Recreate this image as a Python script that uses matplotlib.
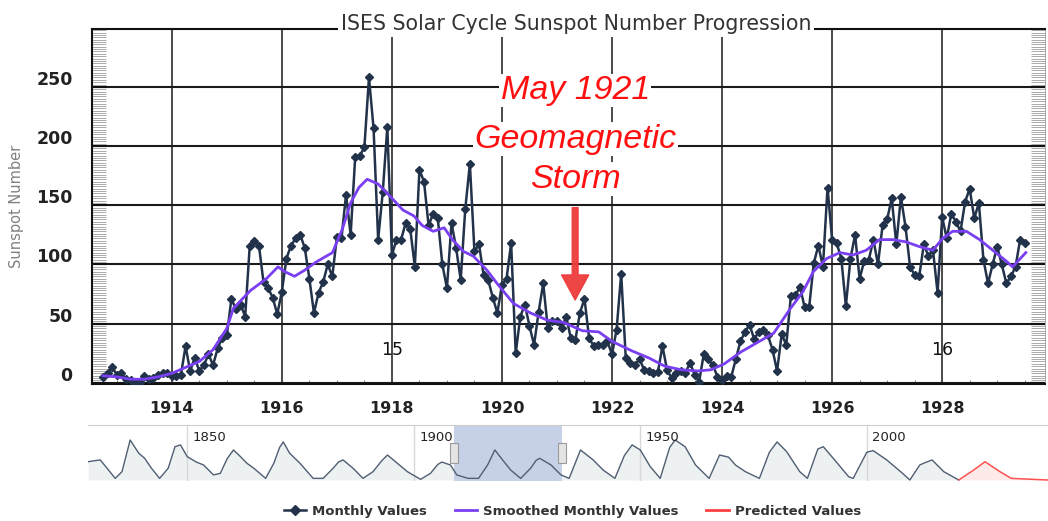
import numpy as np
import matplotlib.pyplot as plt
import matplotlib.transforms as mtransforms
from matplotlib.lines import Line2D
from matplotlib.patches import Rectangle
from matplotlib.ticker import MultipleLocator

# Monthly sunspot numbers, Oct 1912 .. Jul 1929
m1912 = [5, 8, 13]
m1913 = [7, 8, 3, 2, 1, 1, 6, 3, 4, 7, 8, 8]
m1914 = [6, 6, 7, 31, 10, 21, 10, 15, 24, 15, 29, 38]
m1915 = [40, 71, 62, 66, 56, 116, 120, 116, 85, 80, 72, 58]
m1916 = [77, 105, 116, 122, 125, 114, 88, 59, 76, 85, 100, 90]
m1917 = [123, 122, 159, 125, 191, 192, 199, 258, 215, 121, 161, 216]
m1918 = [108, 121, 121, 135, 130, 98, 180, 170, 133, 143, 139, 100]
m1919 = [80, 135, 114, 87, 147, 185, 111, 117, 91, 87, 72, 59]
m1920 = [83, 88, 118, 25, 56, 66, 48, 32, 60, 84, 46, 52]
m1921 = [52, 46, 56, 38, 36, 59, 71, 38, 31, 32, 32, 35]
m1922 = [24, 45, 92, 21, 17, 15, 20, 11, 10, 8, 9, 31]
m1923 = [11, 4, 8, 10, 8, 17, 7, 1, 24, 20, 15, 5]
m1924 = [2, 6, 5, 20, 35, 43, 49, 37, 43, 45, 40, 28]
m1925 = [10, 41, 32, 73, 74, 81, 64, 64, 101, 116, 98, 165]
m1926 = [121, 118, 105, 65, 105, 125, 88, 103, 104, 121, 100, 133]
m1927 = [138, 156, 117, 157, 132, 98, 91, 90, 117, 107, 112, 76]
m1928 = [140, 122, 143, 136, 128, 153, 164, 139, 152, 104, 84, 100]
m1929 = [115, 100, 84, 90, 98, 121, 118]

monthly = np.array(m1912 + m1913 + m1914 + m1915 + m1916 + m1917 + m1918 + m1919
                   + m1920 + m1921 + m1922 + m1923 + m1924 + m1925 + m1926 + m1927
                   + m1928 + m1929)
month_t = 1912.75 + np.arange(len(monthly)) / 12

# Smoothed monthly values
smooth_t = [1912.75, 1913.0, 1913.25, 1913.5, 1913.75, 1914.0, 1914.25, 1914.5, 1914.75,
            1915.0, 1915.12, 1915.43, 1915.72, 1915.93, 1916.05, 1916.23, 1916.41, 1916.62,
            1916.92, 1917.1, 1917.25, 1917.4, 1917.55, 1917.75, 1918.0, 1918.2, 1918.4,
            1918.55, 1918.75, 1918.95, 1919.1, 1919.3, 1919.48, 1919.73, 1919.91, 1920.21,
            1920.52, 1920.82, 1921.12, 1921.46, 1921.76, 1922.0, 1922.36, 1922.67, 1922.96,
            1923.26, 1923.56, 1923.8, 1924.04, 1924.34, 1924.64, 1924.94, 1925.23, 1925.47,
            1925.66, 1925.9, 1926.14, 1926.38, 1926.62, 1926.86, 1927.1, 1927.35, 1927.59,
            1927.83, 1928.01, 1928.19, 1928.44, 1928.68, 1928.92, 1929.16, 1929.28, 1929.4,
            1929.52]
smooth_v = [6, 5, 3, 3, 5, 8, 13, 18, 28,
            46, 63, 78, 88, 98, 94, 90, 95, 102,
            110, 130, 152, 165, 172, 168, 156, 146, 141,
            133, 128, 131, 121, 111, 107, 95, 84, 67,
            59, 53, 51, 44, 43, 35, 27, 21, 14,
            11, 10, 11, 16, 26, 34, 42, 62, 77,
            94, 105, 110, 108, 112, 121, 121, 119, 115,
            112, 122, 128, 128, 121, 112, 103, 98, 104,
            110]

cycle_names = ['15', '16']
cycle_t = [1918.0, 1928.0]
cycle_y = [28, 28]

storm_t = 1921.33
storm_lines = ['May 1921', 'Geomagnetic', 'Storm']
storm_y = [247, 206, 172]
arrow_from, arrow_to = 148, 70

# Navigator: whole record, roughly smoothed
nav_t = [1828.1, 1829.5, 1830.8, 1832.3, 1834.1, 1835.6, 1837.4, 1839.3, 1840.6, 1842.1,
         1843.9, 1845.8, 1847.3, 1848.5, 1850.0, 1852.0, 1853.6, 1855.8, 1857.3, 1858.8,
         1860.2, 1861.5, 1863.2, 1864.7, 1867.3, 1869.1, 1870.4, 1871.2, 1872.6, 1874.9,
         1877.8, 1880.0, 1882.2, 1883.4, 1884.4, 1886.6, 1888.8, 1891.0, 1893.0, 1894.2,
         1896.4, 1898.6, 1901.5, 1903.7, 1905.3, 1906.2, 1908.1, 1909.5, 1912.0, 1914.3,
         1916.3, 1917.9, 1919.6, 1921.4, 1923.6, 1925.8, 1927.0, 1927.8, 1930.3, 1932.5,
         1934.3, 1936.8, 1939.6, 1941.8, 1944.4, 1946.5, 1948.2, 1950.0, 1952.2, 1954.4,
         1956.5, 1957.7, 1959.9, 1962.2, 1965.2, 1967.5, 1969.5, 1971.0, 1973.2, 1976.3,
         1978.5, 1980.2, 1982.3, 1985.2, 1986.9, 1989.2, 1990.4, 1992.9, 1996.0, 1997.0,
         2000.0, 2001.4, 2004.4, 2007.9, 2009.5, 2011.7, 2012.5, 2014.4, 2017.0, 2020.3]
nav_v = [112, 118, 123, 72, 10, 51, 245, 164, 133, 72,
         10, 72, 204, 215, 143, 110, 92, 31, 41, 130,
         184, 150, 102, 72, 10, 102, 200, 233, 164, 102,
         10, 10, 72, 110, 123, 72, 10, 51, 120, 153,
         102, 51, 4, 41, 95, 110, 92, 31, 10, 10,
         92, 184, 123, 61, 10, 72, 120, 133, 92, 31,
         10, 184, 123, 61, 10, 150, 215, 184, 82, 10,
         200, 245, 204, 92, 10, 153, 140, 92, 51, 10,
         170, 233, 174, 51, 10, 190, 204, 123, 20, 10,
         170, 180, 123, 41, 0, 92, 102, 123, 51, 0]
pred_t = [2020.3, 2023.6, 2026.1, 2029.4, 2031.9, 2040.0]
pred_v = [0, 61, 112, 51, 10, 0]
nav_years = [1850, 1900, 1950, 2000]
sel_start, sel_end = 1908.8, 1932.7

navy = '#22324a'
purple = '#7b3ff2'

fig = plt.figure(figsize=(10.48, 5.21), dpi=100)
ax = fig.add_axes([0.0878, 0.2630, 0.9094, 0.6814])

ax.plot(month_t, monthly, color=navy, lw=1.8, marker='D', ms=4.5, zorder=3)
ax.plot(smooth_t, smooth_v, color=purple, lw=2, zorder=4)

ax.set_xlim(1912.55, 1929.87)
ax.set_ylim(-1, 299)
ax.set_xticks(range(1914, 1929, 2))
ax.xaxis.set_minor_locator(MultipleLocator(0.5))
ax.set_yticks(range(0, 251, 50))
ax.yaxis.set_minor_locator(MultipleLocator(2))

ax.grid(axis='y', which='major', color='#1a1a1a', lw=1.5)
ax.grid(axis='x', which='major', color='#1a1a1a', lw=1.1)

ax.tick_params(axis='x', which='major', length=0, pad=12, labelsize=11.5, labelcolor='#222')
ax.tick_params(axis='x', which='minor', direction='in', length=3, width=0.8, color='#888')
ax.tick_params(axis='y', which='major', direction='in', length=11, width=1.5, color='#111',
               left=True, right=True, pad=14, labelsize=12.5, labelcolor='#222')
ax.tick_params(axis='y', which='minor', direction='in', length=10, width=0.7, color='#aaa',
               left=True, right=True)
for sp in ax.spines.values():
    sp.set_color('#111')
    sp.set_linewidth(1.5)
ax.spines['right'].set_linewidth(0.6)
ax.spines['right'].set_color('#999')

offset = mtransforms.ScaledTranslation(0, 0.09, fig.dpi_scale_trans)
for lab in ax.get_yticklabels():
    lab.set_fontweight('bold')
    lab.set_transform(lab.get_transform() + offset)
for lab in ax.get_xticklabels():
    lab.set_fontweight('bold')

ax.set_ylabel('Sunspot Number', color='#808080', fontsize=10.5, labelpad=9)

ax.text(0.508, 1.014, 'ISES Solar Cycle Sunspot Number Progression', transform=ax.transAxes,
        ha='center', va='center', fontsize=14.8, color='#333', zorder=6, clip_on=False,
        bbox=dict(facecolor='white', edgecolor='none', pad=2))

for name, t, y in zip(cycle_names, cycle_t, cycle_y):
    ax.text(t, y, name, ha='center', va='center', fontsize=12.5, color='#111', zorder=5)

for line, y in zip(storm_lines, storm_y):
    ax.text(storm_t, y, line, ha='center', va='center', color='#ff1010', fontsize=24.5,
            fontstyle='italic', family='Liberation Sans', zorder=6,
            bbox=dict(facecolor='white', edgecolor='none', pad=1))
ax.annotate('', xy=(storm_t, arrow_to), xytext=(storm_t, arrow_from),
            arrowprops=dict(arrowstyle='simple,head_length=1.8,head_width=1.95,tail_width=0.42',
                            color='#ee3b3b', alpha=0.95, shrinkA=0, shrinkB=0,
                            mutation_scale=10), zorder=6)

# navigator
ax2 = fig.add_axes([0.0840, 0.0768, 0.9160, 0.1075])
ax2.set_xlim(1828.1, 2040)
ax2.set_ylim(-6, 337)
ax2.fill_between(nav_t, nav_v, 0, color='#eef1f1', lw=0, zorder=1)
ax2.fill_between(pred_t, pred_v, 0, color='#ffeaea', lw=0, zorder=1)
ax2.axvspan(sel_start, sel_end, color='#c6d1e8', lw=0, zorder=2)
ax2.plot(nav_t, nav_v, color='#4f5e72', lw=1, zorder=3)
ax2.plot(pred_t, pred_v, color='#ff5050', lw=1.1, zorder=3)
blend = mtransforms.blended_transform_factory(ax2.transData, ax2.transAxes)
for yr in nav_years:
    ax2.axvline(yr, color='#d8d8d8', lw=1, zorder=1.5)
    ax2.text(yr + 1.2, 0.78, str(yr), transform=blend, fontsize=9.5, va='center', color='#222')
for s in (sel_start, sel_end):
    ax2.add_patch(Rectangle((s - 0.9, 0.32), 1.8, 0.36, transform=blend, facecolor='#e4e4e4',
                            edgecolor='#9a9a9a', lw=0.8, zorder=4))
for k in ['left', 'right', 'bottom']:
    ax2.spines[k].set_visible(False)
ax2.spines['top'].set_color('#cfcfcf')
ax2.set_xticks([])
ax2.set_yticks([])

handles = [Line2D([], [], color=navy, lw=1.8, marker='D', ms=5),
           Line2D([], [], color=purple, lw=2),
           Line2D([], [], color='#ff4040', lw=2)]
labels = ['Monthly Values', 'Smoothed Monthly Values', 'Predicted Values']
leg = fig.legend(handles, labels, loc='center', bbox_to_anchor=(0.546, 0.019), ncol=3,
                 frameon=False, prop={'weight': 'bold', 'size': 9.5}, handlelength=1.7,
                 columnspacing=2.1, handletextpad=0.45)
for t in leg.get_texts():
    t.set_color('#333')

fig.savefig('out.png', dpi=100)
